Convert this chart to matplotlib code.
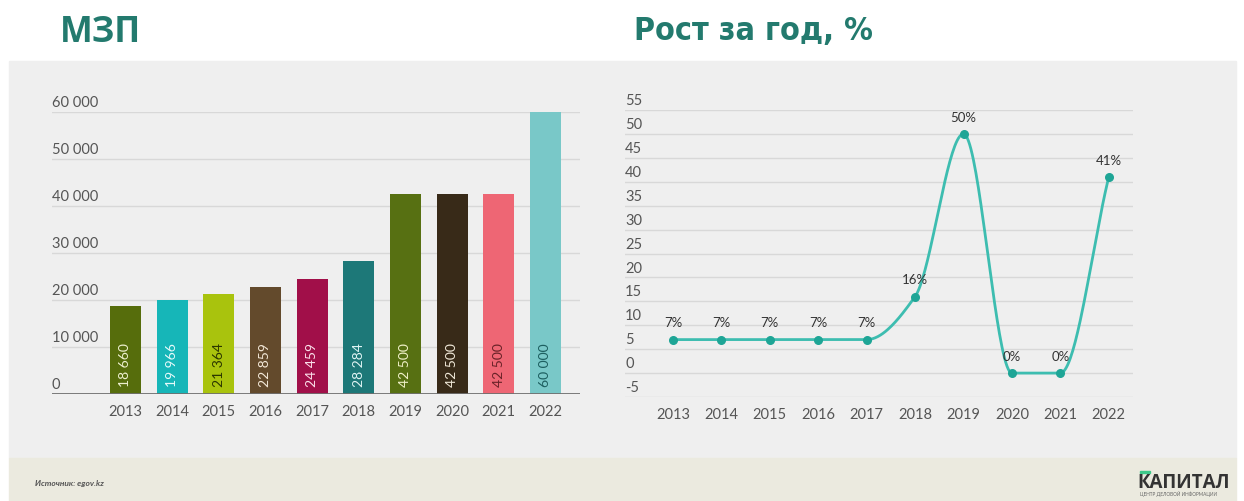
import numpy as np
import matplotlib
matplotlib.use("Agg")
import matplotlib.pyplot as plt
from matplotlib.patches import Rectangle

plt.rcParams['font.family'] = ['Lato', 'DejaVu Sans']

years = ['2013', '2014', '2015', '2016', '2017', '2018', '2019', '2020', '2021', '2022']
mzp = [18660, 19966, 21364, 22859, 24459, 28284, 42500, 42500, 42500, 60000]
mzp_labels = ['18 660', '19 966', '21 364', '22 859', '24 459', '28 284', '42 500', '42 500', '42 500', '60 000']
growth = [7, 7, 7, 7, 7, 16, 50, 0, 0, 41]
growth_labels = ['7%', '7%', '7%', '7%', '7%', '16%', '50%', '0%', '0%', '41%']

bar_colors = ['#566d0c', '#16b6b8', '#a9c30d', '#634a2c', '#a10f49',
              '#1d7878', '#577012', '#382a18', '#ee6674', '#79c8c8']
bar_text_colors = ['#eef0d0', '#e8fbfb', '#2b3600', '#f3e8d8', '#fbe0ea',
                   '#e0f4f4', '#f0f0c8', '#f0e8d8', '#6a2228', '#1d5f60']

W, H = 1244, 502
fig = plt.figure(figsize=(W / 100, H / 100), dpi=100)
fig.patch.set_facecolor('white')


def px(x0, y0, x1, y1):
    # pixel box (top-left origin) -> figure fraction
    return [x0 / W, 1 - y1 / H, (x1 - x0) / W, (y1 - y0) / H]


# background panels
fig.patches.append(Rectangle((9 / W, 1 - 459 / H), 1227 / W, 397 / H,
                             transform=fig.transFigure, color='#efefef', zorder=-10))
fig.patches.append(Rectangle((9 / W, 0), 1227 / W, 43 / H,
                             transform=fig.transFigure, color='#ebeadf', zorder=-10))

teal = '#237a6e'
fig.text(60 / W, 1 - 33 / H, 'МЗП', fontsize=25, fontweight='bold', color=teal,
         family=['Open Sans', 'DejaVu Sans'], va='center', ha='left')
fig.text(634 / W, 1 - 32 / H, 'Рост за год, %', fontsize=23, fontweight='bold', color=teal,
         family='DejaVu Sans', fontstretch='condensed', va='center', ha='left')

tick_color = '#555555'

# ---- left: bars
ax1 = fig.add_axes(px(52, 113, 580, 395))
ax1.set_facecolor('none')
x = np.arange(len(years))
ax1.bar(x, mzp, width=0.66, color=bar_colors, zorder=3)
ax1.set_xlim(-1.575, 9.74)
ax1.set_ylim(0, 60000)
for v in range(10000, 60001, 10000):
    ax1.axhline(v, color='#d8d8d8', lw=1, zorder=1)
ax1.axhline(0, color='#6f6f6f', lw=2, zorder=4)
for v in range(0, 60001, 10000):
    lab = '0' if v == 0 else f'{v // 1000} 000'
    ax1.text(0, v + 600, lab, transform=ax1.get_yaxis_transform(), ha='left', va='bottom',
             fontsize=10.5, color=tick_color)
for i in range(len(years)):
    ax1.text(x[i], 1800, mzp_labels[i], rotation=90, ha='center', va='bottom',
             fontsize=10, color=bar_text_colors[i], zorder=5)
ax1.set_xticks(x)
ax1.set_xticklabels(years, fontsize=10.5, color=tick_color)
ax1.tick_params(axis='x', length=0, pad=7)
ax1.set_yticks([])
for s in ax1.spines.values():
    s.set_visible(False)


# ---- right: line
def monotone(xs, ys, n=40):
    xs = np.asarray(xs, float)
    ys = np.asarray(ys, float)
    h = np.diff(xs)
    d = np.diff(ys) / h
    m = np.zeros_like(ys)
    m[0], m[-1] = d[0], d[-1]
    for k in range(1, len(ys) - 1):
        if d[k - 1] * d[k] <= 0:
            m[k] = 0
        else:
            m[k] = 2 / (1 / d[k - 1] + 1 / d[k])
    ox, oy = [], []
    for k in range(len(xs) - 1):
        t = np.linspace(0, 1, n)
        h00 = 2 * t**3 - 3 * t**2 + 1
        h10 = t**3 - 2 * t**2 + t
        h01 = -2 * t**3 + 3 * t**2
        h11 = t**3 - t**2
        ox.extend(xs[k] + t * h[k])
        oy.extend(h00 * ys[k] + h10 * h[k] * m[k] + h01 * ys[k + 1] + h11 * h[k] * m[k + 1])
    return np.array(ox), np.array(oy)


ax2 = fig.add_axes(px(625, 111, 1133, 398))
ax2.set_facecolor('none')
ax2.set_xlim(-0.99, 9.5)
ax2.set_ylim(-5, 55)
for v in range(-5, 56, 5):
    ax2.axhline(v, color='#d8d8d8', lw=1, zorder=1)
    ax2.text(0, v + 0.6, str(v), transform=ax2.get_yaxis_transform(), ha='left', va='bottom',
             fontsize=10.5, color=tick_color)
sx, sy = monotone(x, growth)
ax2.plot(sx, sy, color='#3dbdb0', lw=2, zorder=3)
ax2.scatter(x, growth, s=30, color='#1ea596', zorder=4)
for i in range(len(years)):
    ax2.annotate(growth_labels[i], (x[i], growth[i]), xytext=(0, 8), textcoords='offset points',
                 ha='center', va='bottom', fontsize=9.5, color='#333333', zorder=5)
ax2.set_xticks(x)
ax2.set_xticklabels(years, fontsize=10.5, color=tick_color)
ax2.tick_params(axis='x', length=0, pad=7)
ax2.set_yticks([])
for s in ax2.spines.values():
    s.set_visible(False)

# ---- footer
fig.text(35 / W, 1 - 484 / H, 'Источник: egov.kz', fontsize=6, fontstyle='italic',
         fontweight='bold', color='#555555', va='center', ha='left')
fig.patches.append(Rectangle((1140 / W, 1 - 474 / H), 10 / W, 2.5 / H,
                             transform=fig.transFigure, color='#3ec98a', zorder=2))
fig.text(1137 / W, 1 - 483 / H, 'КАПИТАЛ', fontsize=13.5, fontweight='bold', color='#333333',
         family=['Open Sans', 'DejaVu Sans'], va='center', ha='left')
fig.text(1140 / W, 1 - 494 / H, 'ЦЕНТР ДЕЛОВОЙ ИНФОРМАЦИИ', fontsize=3.4, color='#666666',
         va='center', ha='left')

fig.savefig('out.png', dpi=100, facecolor='white')
